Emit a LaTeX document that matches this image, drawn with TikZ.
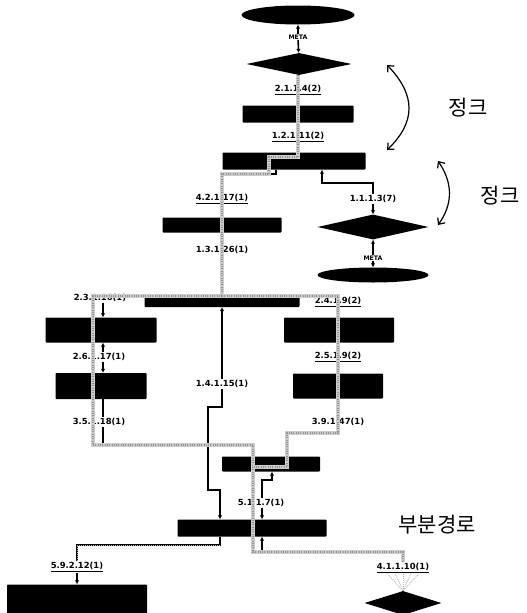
\documentclass[tikz,border=0pt]{standalone}
\usepackage{fontspec}
\setmainfont{DejaVu Sans}
\newfontfamily\kofont{Noto Sans CJK KR}
\usetikzlibrary{shapes.geometric,arrows.meta,calc}
\begin{document}
\begin{tikzpicture}[x=1pt,y=-1pt,
  blk/.style={fill=black,draw=none,inner sep=0pt},
  box/.style={blk,rectangle,rounded corners=0.8pt},
  oval/.style={blk,ellipse},
  dia/.style={blk,diamond},
  lab/.style={font=\fontsize{8.4}{9}\selectfont\bfseries,inner sep=0.6pt},
  meta/.style={font=\fontsize{6.2}{7}\selectfont\bfseries,inner sep=0.5pt},
  kor/.style={font=\kofont\fontsize{21}{24}\selectfont,inner sep=0pt},
  line/.style={draw=black,line width=1.6pt},
  arr/.style={line,-{Latex[length=4pt,width=4.5pt]}},
  hl/.style={line width=4.2pt,draw=gray!40,line join=miter,
    postaction={draw=gray!85,line width=1.4pt,dash pattern=on 0.9pt off 1.4pt}},
  hlthin/.style={line width=1pt,draw=gray!55,dash pattern=on 1pt off 1pt},
  fan/.style={draw=gray!60,line width=0.8pt,dash pattern=on 1pt off 1pt},
  cur/.style={line width=1.2pt,{Straight Barb[length=5pt,width=9pt]}-{Straight Barb[length=5pt,width=9pt]}}
]
\useasboundingbox (0,0) rectangle (527,613);

% ---- nodes ----
\node[oval,minimum width=113pt,minimum height=19pt] (e1) at (298,15) {};
\node[meta] (meta1) at (298,37) {META};
\node[dia,minimum width=105pt,minimum height=22pt] (d1) at (299,64) {};
\node[lab] (l1) at (298,90) {\underline{2.1.1.4(2)}};
\node[box,minimum width=111pt,minimum height=17pt] (r1) at (298,114) {};
\node[lab] (l2) at (298,137) {\underline{1.2.1.11(2)}};
\node[box,minimum width=143pt,minimum height=17pt] (r2) at (294,161) {};
\node[lab] (l3) at (222,199) {\underline{4.2.1.17(1)}};
\node[box,minimum width=119pt,minimum height=15pt] (r3) at (222,225) {};
\node[lab] (l4) at (222,250) {1.3.1.26(1)};
\node[lab] (l5) at (373,199) {1.1.1.3(7)};
\node[dia,minimum width=111pt,minimum height=25pt] (d2) at (373,227) {};
\node[meta] (meta2) at (373,258) {META};
\node[oval,minimum width=111pt,minimum height=15pt] (e2) at (373,275) {};
\node[box,minimum width=155pt,minimum height=12pt] (bar) at (222,301) {};
\node[lab] (l6) at (100,298) {2.3.1.16(1)};
\node[box,minimum width=111pt,minimum height=25pt] (r4) at (101,330) {};
\node[lab] (l7) at (99,357) {2.6.1.17(1)};
\node[box,minimum width=91pt,minimum height=26pt] (r5) at (101,386) {};
\node[lab] (l8) at (99,422) {3.5.1.18(1)};
\node[lab] (l9) at (338,302) {\underline{2.4.1.9(2)}};
\node[box,minimum width=110pt,minimum height=25pt] (r6) at (339,330) {};
\node[lab] (l10) at (338,357) {\underline{2.5.1.9(2)}};
\node[box,minimum width=90pt,minimum height=25pt] (r7) at (338,386) {};
\node[lab] (l11) at (338,422) {3.9.1.47(1)};
\node[lab] (l12) at (222,384) {1.4.1.15(1)};
\node[box,minimum width=98pt,minimum height=15pt] (r8) at (271,464) {};
\node[lab] (l13) at (261,503) {5.1.1.7(1)};
\node[box,minimum width=149pt,minimum height=17pt] (r9) at (252,528) {};
\node[lab] (l14) at (77,567) {\underline{5.9.2.12(1)}};
\node[box,minimum width=140pt,minimum height=29pt] (r10) at (77,599) {};
\node[lab] (l15) at (403,568) {\underline{4.1.1.10(1)}};
\node[dia,minimum width=77pt,minimum height=24pt] (d3) at (403,603) {};

\node[kor] (k1) at (468,108) {정크};
\node[kor] (k2) at (500,196) {정크};
\node[kor] (k3) at (437,525) {부분경로};

% ---- coordinates ----
\coordinate (s1) at (276,174);
\coordinate (q1) at (322,183);
\coordinate (b1) at (222,407);
\coordinate (b2) at (208,407);
\coordinate (b3) at (208,490);
\coordinate (b4) at (220,490);
\coordinate (m1b) at (272,480);
\coordinate (m1c) at (262,480);
\coordinate (p1) at (262,552);
\coordinate (p2) at (220,545);
\coordinate (g1) at (103,445);
\coordinate (g2) at (338,433);
\coordinate (ca1) at (387,65);
\coordinate (ca2) at (387,150);
\coordinate (cb1) at (438,161);
\coordinate (cb2) at (438,225);

% ---- black connectors ----
\draw[arr] (meta1) -- (e1);
\draw[arr] (meta1) -- (d1);
\draw[line] (d1) -- (l1);
\draw[line] (l1) -- (r1);
\draw[line] (r1) -- (l2);
\draw[line] (l2) -- (r2.north -| l2);
\draw[line] (s1 |- r2.south) -- (s1) -| (l3.north);
\draw[line] (l3) -- (r3);
\draw[line] (r3) -- (l4);
\draw[line] (l4) -- (bar);
\draw[arr] (l5.north) |- (q1) -- (q1 |- r2.south);
\draw[arr] (l5) -- (d2);
\draw[arr] (meta2) -- (d2);
\draw[arr] (meta2) -- (e2);
\draw[arr] ([xshift=3pt]l6.south) -- ([xshift=2pt]r4.north);
\draw[arr] ([xshift=4pt]l7.north) -- ([xshift=2pt]r4.south);
\draw[arr] ([xshift=4pt]l7.south) -- ([xshift=2pt]r5.north);
\draw[line] ([xshift=2pt]r5.south) -- ([xshift=4pt]l8.north);
\draw[line] ([xshift=4pt]l8.south) -- (g1);
\draw[line] (l9) -- (r6);
\draw[line] (r6) -- (l10);
\draw[line] (l10) -- (r7);
\draw[line] (r7) -- (l11);
\draw[line] (l11) -- (g2);
\draw[arr] (l12.north) -- (l12.north |- bar.south);
\draw[arr] (l12.south) -- (b1) -- (b2) -- (b3) -- (b4) -- (b4 |- r9.north);
\draw[arr] (m1c |- l13.north) -- (m1c) -- (m1b) -- (m1b |- r8.south);
\draw[arr] (m1c |- l13.south) -- (m1c |- r9.north);
\draw[arr] (l15.north) |- (p1) -- (p1 |- r9.south);
\draw[line] (p2 |- r9.south) -- (p2) -| (l14.north);
\draw[hlthin] (p2) -| (l14.north);
\draw[arr] (l14) -- (r10);

% ---- highlighted sub-path ----
\draw[hl] (d1.south -| 298,0) -- (298,157) -- (269,157) -- (269,174) -- (222,174) -- (222,296)
  -- (93,296) -- (93,445) -- (253,445) -- (253,552) -- (403,552) -- (l15.north);
\draw[hl] (222,296) -- (338,296) -- (338,433) -- (287,433) -- (287,467) -- (253,467);
\foreach \dx in {-16,-8,0,8,16}
  \draw[fan] ([xshift=\dx pt]l15.south) -- (d3.north);

% ---- curved double arrows ----
\draw[cur] (ca1) .. controls (416,95) and (416,122) .. (ca2);
\draw[cur] (cb1) .. controls (453,183) and (453,204) .. (cb2);
\end{tikzpicture}
\end{document}
